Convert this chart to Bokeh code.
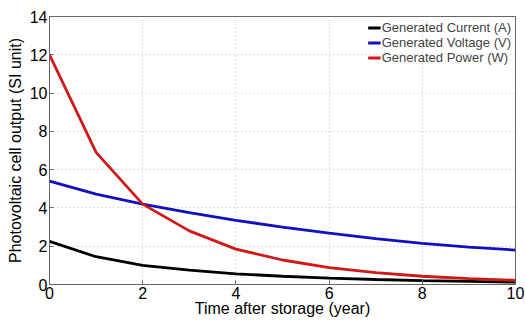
from bokeh.plotting import figure
from bokeh.models import Range1d, Legend, LegendItem
from bokeh.embed import file_html
from bokeh.resources import INLINE

years = [0, 1, 2, 3, 4, 5, 6, 7, 8, 9, 10]
current = [2.25, 1.45, 1.0, 0.75, 0.56, 0.43, 0.33, 0.26, 0.2, 0.16, 0.12]
voltage = [5.4, 4.72, 4.2, 3.75, 3.35, 3.0, 2.68, 2.4, 2.15, 1.95, 1.8]
power = [12.0, 6.9, 4.2, 2.8, 1.85, 1.28, 0.88, 0.62, 0.43, 0.31, 0.22]

series = [
    ("Generated Current (A)", current, "black"),
    ("Generated Voltage (V)", voltage, "#1010c0"),
    ("Generated Power (W)", power, "#d01818"),
]

p = figure(frame_width=466, frame_height=268, output_backend="svg",
           toolbar_location=None, x_range=Range1d(0, 10), y_range=Range1d(0, 14),
           min_border_left=49, min_border_right=10, min_border_top=16,
           min_border_bottom=36)

items = []
for name, vals, col in series:
    r = p.line(years, vals, line_color=col, line_width=2.8)
    items.append(LegendItem(label=name, renderers=[r]))

font = "Liberation Sans"
p.xaxis.ticker = [0, 2, 4, 6, 8, 10]
p.yaxis.ticker = [0, 2, 4, 6, 8, 10, 12, 14]
for ax in (p.xaxis, p.yaxis):
    ax.major_label_text_font = font
    ax.major_label_text_font_size = "16px"
    ax.major_label_text_color = "black"
    ax.axis_label_text_font = font
    ax.axis_label_text_font_size = "16px"
    ax.axis_label_text_font_style = "normal"
    ax.axis_label_text_color = "black"
    ax.axis_line_color = "#666666"
    ax.major_tick_line_color = "#666666"
    ax.major_tick_in = 4
    ax.major_tick_out = 0
    ax.minor_tick_line_color = None
    ax.major_label_standoff = 2
p.xaxis.axis_label = "Time after storage (year)"
p.yaxis.axis_label = "Photovoltaic cell output (SI unit)"
p.xaxis.axis_label_standoff = -2
p.yaxis.axis_label_standoff = 3

p.grid.grid_line_color = "#aaaaaa"
p.grid.grid_line_dash = "1 3"
p.grid.grid_line_alpha = 0.8
p.outline_line_color = "#666666"
p.outline_line_alpha = 1.0

legend = Legend(items=items, location="top_right")
legend.label_text_font = font
legend.label_text_font_size = "13px"
legend.background_fill_alpha = 0.0
legend.border_line_color = None
legend.glyph_width = 13
legend.glyph_height = 15
legend.label_standoff = 1
legend.spacing = 0
legend.padding = 0
legend.margin = 4
legend.label_height = 15
p.add_layout(legend)

open("out.html", "w").write(file_html(p, INLINE))
